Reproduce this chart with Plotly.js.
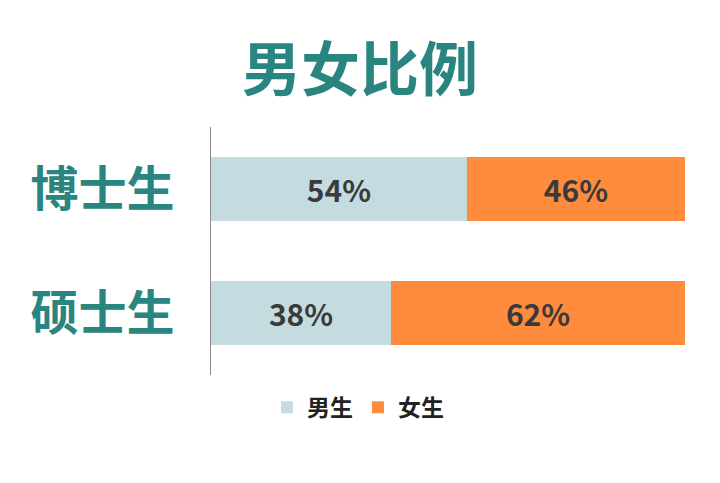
<!DOCTYPE html>
<html><head><meta charset="utf-8">
<script src="https://cdn.plot.ly/plotly-3.0.1.min.js"></script>
<style>html,body{margin:0;padding:0;background:#fff;}#chart{width:720px;height:483px;}</style>
</head><body><div id="chart"></div>
<script>
const categories = ['博士生', '硕士生'];
const maleValues = [0.54, 0.38];
const femaleValues = [0.46, 0.62];
const seriesNames = ['男生', '女生'];

const pct = v => Math.round(v * 100) + '%';
const textFont = {family: 'Noto Sans CJK SC, DejaVu Sans', size: 30, color: '#3a3a3a', weight: 'bold'};

const traces = [
  {type: 'bar', orientation: 'h', name: seriesNames[0], y: categories, x: maleValues,
   marker: {color: '#C4DCE0'}, text: maleValues.map(pct), textposition: 'inside',
   insidetextanchor: 'middle', textfont: textFont, hoverinfo: 'none'},
  {type: 'bar', orientation: 'h', name: seriesNames[1], y: categories, x: femaleValues,
   marker: {color: '#FF8B3D'}, text: femaleValues.map(pct), textposition: 'inside',
   insidetextanchor: 'middle', textfont: textFont, hoverinfo: 'none'}
];

const layout = {
  width: 720, height: 483,
  margin: {l: 211, r: 35, t: 127, b: 108},
  paper_bgcolor: '#fff', plot_bgcolor: '#fff',
  barmode: 'stack', bargap: 0.49,
  showlegend: true,
  title: {text: '男女比例', x: 0.5, xref: 'container', y: 0.855, yref: 'container', yanchor: 'middle',
          font: {family: 'Noto Sans CJK SC', size: 59, color: '#2A8580', weight: 'bold'}},
  xaxis: {range: [0, 1], visible: false, fixedrange: true},
  yaxis: {autorange: 'reversed', showline: true, linecolor: '#8a8a8a', linewidth: 1,
          showgrid: false, zeroline: false, ticks: '', ticklabelstandoff: 26,
          tickfont: {family: 'Noto Sans CJK SC', size: 48, color: '#2A8580', weight: 'bold'}},
  legend: {orientation: 'h', x: 0.31, xanchor: 'center', y: -0.13, yanchor: 'middle',
           font: {family: 'Noto Sans CJK SC', size: 23, color: '#222', weight: 'bold'},
           itemwidth: 30, traceorder: 'normal'}
};

Plotly.newPlot('chart', traces, layout, {displayModeBar: false, staticPlot: true});
</script></body></html>
